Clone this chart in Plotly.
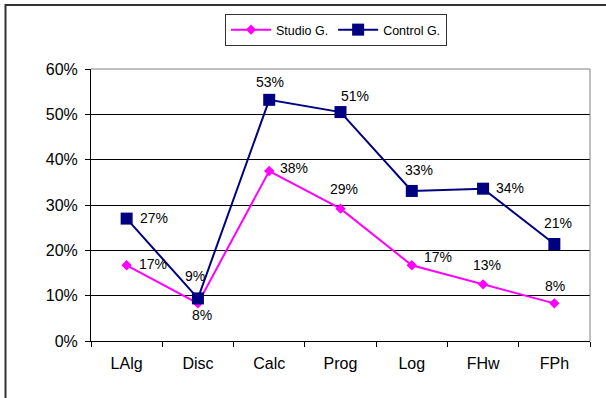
import plotly.graph_objects as go

categories = ["LAlg", "Disc", "Calc", "Prog", "Log", "FHw", "FPh"]
studio = [0.167, 0.083, 0.375, 0.292, 0.167, 0.125, 0.083]
control = [0.270, 0.094, 0.532, 0.505, 0.331, 0.336, 0.214]
y_ticks = [0, 0.1, 0.2, 0.3, 0.4, 0.5, 0.6]

FONT = "Liberation Sans, Arial, sans-serif"
W, H = 606, 398
ML, MR, MT, MB = 91, 16, 69, 57
PW, PH = W - ML - MR, H - MT - MB

# label offsets (px) relative to each marker
studio_off = [(26, 1), (4, -12), (25, 3), (3, 20), (26, 8), (4, 19), (1, 17)]
control_off = [(27, 1), (-3, 22), (1, 18), (14, 16), (7, 21), (27, 1), (4, 21)]

def lab(v):
    return f"{int(v * 100 + 0.5)}%"

fig = go.Figure()
fig.add_trace(go.Scatter(
    x=categories, y=studio, name="Studio G.", mode="lines+markers",
    line=dict(color="#FF00FF", width=2),
    marker=dict(symbol="diamond", size=8, color="#FF00FF"),
))
fig.add_trace(go.Scatter(
    x=categories, y=control, name="Control G.", mode="lines+markers",
    line=dict(color="#000080", width=2),
    marker=dict(symbol="square", size=12, color="#000080"),
))

ann = []
for vals, offs in ((studio, studio_off), (control, control_off)):
    for c, v, (dx, dy) in zip(categories, vals, offs):
        ann.append(dict(x=c, y=v, xref="x", yref="y", text=lab(v), showarrow=False,
                        xshift=dx, yshift=dy, font=dict(family=FONT, size=14, color="#000")))

def px_x(p):
    return (p - ML) / PW

def px_y(p):
    return (H - MB - p) / PH

shapes = [
    dict(type="line", xref="paper", yref="paper", x0=0, x1=1, y0=1, y1=1,
         line=dict(color="#808080", width=1), layer="above"),
    dict(type="line", xref="paper", yref="paper", x0=1, x1=1, y0=0, y1=1,
         line=dict(color="#808080", width=1), layer="above"),
    dict(type="rect", xref="paper", yref="paper",
         x0=px_x(5.5), x1=px_x(612), y0=px_y(404), y1=px_y(5),
         line=dict(color="#333333", width=2), layer="above"),
]

fig.update_layout(
    width=W, height=H,
    margin=dict(l=ML, r=MR, t=MT, b=MB),
    paper_bgcolor="white", plot_bgcolor="white",
    font=dict(family=FONT, color="#000"),
    showlegend=True,
    legend=dict(orientation="h", x=px_x(336), xanchor="center", y=px_y(14), yanchor="top",
                bgcolor="white", bordercolor="#333333", borderwidth=1,
                font=dict(family=FONT, size=12.5, color="#000"),
                itemwidth=40, tracegroupgap=0),
    annotations=ann,
    shapes=shapes,
    xaxis=dict(showgrid=False, showline=True, linecolor="#000", linewidth=1,
               ticks="outside", ticklen=5, tickcolor="#000", tickson="boundaries",
               tickfont=dict(family=FONT, size=16, color="#000"),
               range=[-0.5, len(categories) - 0.5], zeroline=False,
               ticklabelstandoff=8),
    yaxis=dict(range=[0, 0.6], tickvals=y_ticks, tickformat=".0%",
               showgrid=True, gridcolor="#000", gridwidth=1,
               showline=True, linecolor="#000", linewidth=1,
               ticks="outside", ticklen=5, tickcolor="#000",
               tickfont=dict(family=FONT, size=16, color="#000"),
               zeroline=False, ticklabelstandoff=4),
)

fig.write_html("out.html")
